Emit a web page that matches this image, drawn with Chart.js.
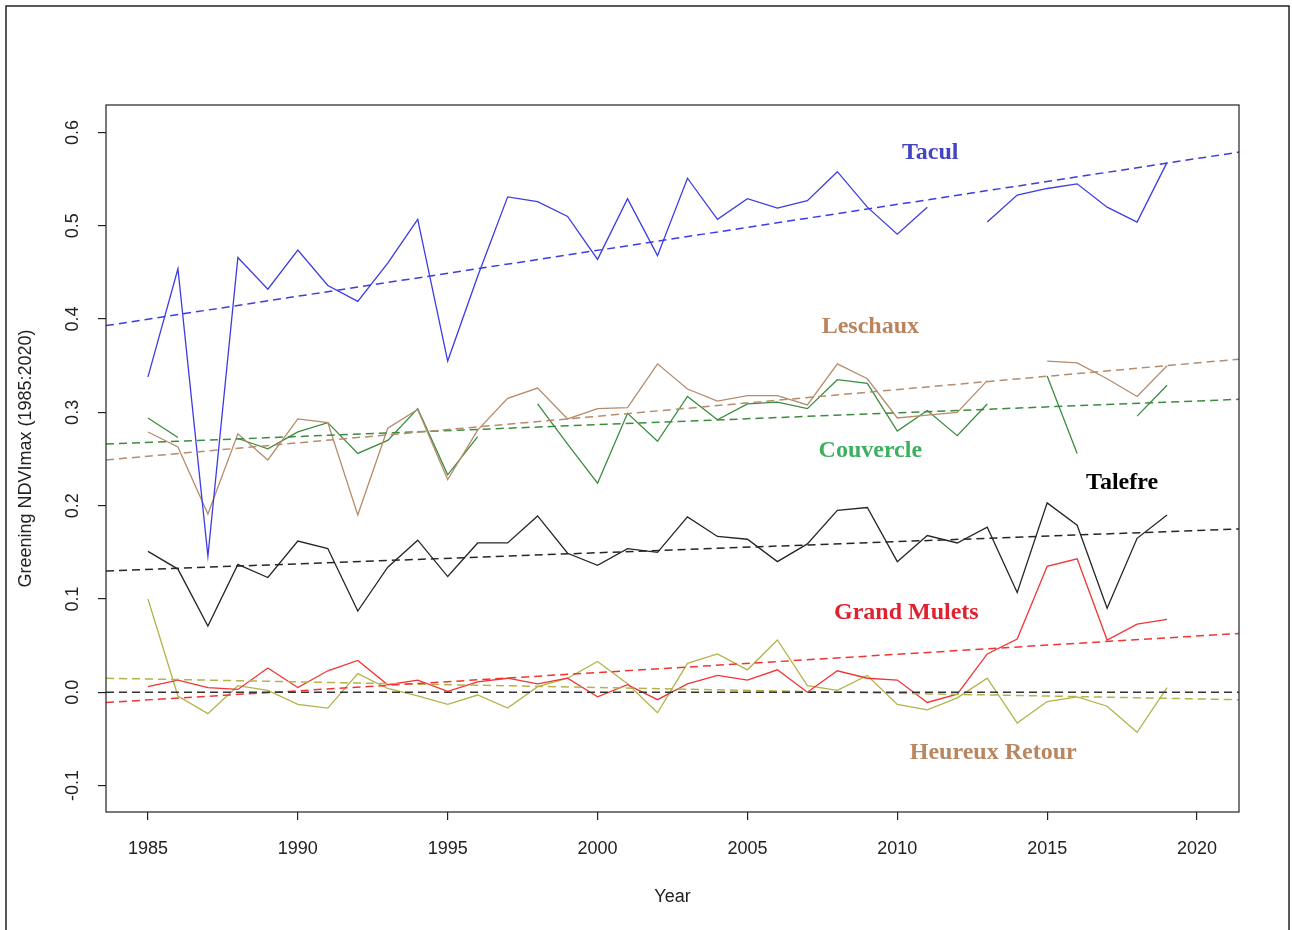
<!DOCTYPE html>
<html>
<head>
<meta charset="utf-8">
<title>Greening NDVImax</title>
<script src="https://cdn.jsdelivr.net/npm/chart.js@4.4.1/dist/chart.umd.min.js"></script>
<style>
  html, body { margin: 0; padding: 0; background: #fff; }
</style>
</head>
<body>
<canvas id="myChart" width="1292" height="930"></canvas>
<script>
// yearly NDVImax greening per glacier site (null = no value that year)
const years = [1985, 1986, 1987, 1988, 1989, 1990, 1991, 1992, 1993, 1994,
  1995, 1996, 1997, 1998, 1999, 2000, 2001, 2002, 2003, 2004,
  2005, 2006, 2007, 2008, 2009, 2010, 2011, 2012, 2013, 2014,
  2015, 2016, 2017, 2018, 2019];

const tacul = [0.338, 0.454, 0.146, 0.466, 0.432, 0.474, 0.436, 0.419, 0.460, 0.507,
  0.355, 0.446, 0.531, 0.526, 0.510, 0.464, 0.529, 0.468, 0.551, 0.507,
  0.529, 0.519, 0.527, 0.558, 0.520, 0.491, 0.520, null, 0.504, 0.533,
  0.540, 0.545, 0.520, 0.504, 0.568];

const leschaux = [0.279, 0.263, 0.191, 0.277, 0.249, 0.293, 0.289, 0.190, 0.283, 0.303,
  0.228, 0.281, 0.315, 0.326, 0.293, 0.304, 0.305, 0.352, 0.325, 0.312,
  0.318, 0.318, 0.308, 0.352, 0.336, 0.294, 0.297, 0.300, 0.334, null,
  0.355, 0.353, 0.336, 0.317, 0.350];

const couvercle = [0.294, 0.273, null, 0.272, 0.261, 0.279, 0.289, 0.256, 0.270, 0.304,
  0.233, 0.274, null, 0.309, 0.266, 0.224, 0.299, 0.269, 0.317, 0.292,
  0.309, 0.311, 0.304, 0.335, 0.331, 0.280, 0.302, 0.275, 0.309, null,
  0.339, 0.256, null, 0.296, 0.329];

const talefre = [0.151, 0.132, 0.071, 0.137, 0.123, 0.162, 0.154, 0.087, 0.134, 0.163,
  0.124, 0.160, 0.160, 0.189, 0.149, 0.136, 0.154, 0.150, 0.188, 0.167,
  0.164, 0.140, 0.159, 0.195, 0.198, 0.140, 0.168, 0.160, 0.177, 0.107,
  0.203, 0.179, 0.090, 0.165, 0.190];

const grandMulets = [0.006, 0.013, 0.005, 0.003, 0.026, 0.005, 0.023, 0.034, 0.008, 0.013,
  0.001, 0.011, 0.015, 0.009, 0.015, -0.005, 0.008, -0.008, 0.009, 0.018,
  0.013, 0.024, 0.000, 0.023, 0.015, 0.013, -0.011, -0.002, 0.041, 0.057,
  0.135, 0.143, 0.056, 0.073, 0.078];

const heureuxRetour = [0.100, -0.004, -0.023, 0.007, 0.002, -0.013, -0.017, 0.020, 0.004, -0.004,
  -0.013, -0.003, -0.017, 0.006, 0.015, 0.033, 0.009, -0.022, 0.031, 0.041,
  0.024, 0.056, 0.007, 0.002, 0.018, -0.013, -0.019, -0.006, 0.015, -0.033,
  -0.010, -0.005, -0.015, -0.043, 0.005];

// linear trend, value at left / right edge of the plot
const trendLeft = [0.393, 0.249, 0.266, 0.130, -0.011, 0.015];
const trendRight = [0.579, 0.357, 0.314, 0.175, 0.063, -0.008];

const siteNames = ["Tacul", "Leschaux", "Couvercle", "Talefre", "Grand Mulets", "Heureux Retour"];
const siteSeries = [tacul, leschaux, couvercle, talefre, grandMulets, heureuxRetour];

// axis range and ticks
const xMin = 1983.6, xMax = 2021.4;
const yMin = -0.1284, yMax = 0.6295;
const xTicks = [1985, 1990, 1995, 2000, 2005, 2010, 2015, 2020];
const yTicks = [-0.1, 0.0, 0.1, 0.2, 0.3, 0.4, 0.5, 0.6];

// styling
const lineColors = ["#3c3ce4", "#b58c6c", "#3b8c3f", "#262626", "#f03434", "#b3b34a"];
const labelColors = ["#4545c2", "#b9845e", "#3cb05e", "#000000", "#e0222e", "#b9865f"];
const labelSpots = [
  { x: 2011.1, y: 0.578 },
  { x: 2009.1, y: 0.392 },
  { x: 2009.1, y: 0.259 },
  { x: 2017.5, y: 0.224 },
  { x: 2010.3, y: 0.0855 },
  { x: 2013.2, y: -0.0647 }
];

const tickFont = { family: "'Liberation Sans', Arial, sans-serif", size: 18 };

let datasets = [];

// zero reference line
datasets.push({
  data: [{ x: xMin, y: 0 }, { x: xMax, y: 0 }],
  borderColor: "#333",
  borderWidth: 1.4,
  borderDash: [8, 5]
});

siteSeries.forEach((series, i) => {
  datasets.push({
    label: siteNames[i] + " trend",
    data: [{ x: xMin, y: trendLeft[i] }, { x: xMax, y: trendRight[i] }],
    borderColor: lineColors[i],
    borderWidth: 1.5,
    borderDash: [8, 5]
  });
});

siteSeries.forEach((series, i) => {
  datasets.push({
    label: siteNames[i],
    data: years.map((yr, k) => ({ x: yr, y: series[k] })),
    borderColor: lineColors[i],
    borderWidth: 1.3,
    spanGaps: false
  });
});

// frame, plot box and the site names
const decorPlugin = {
  id: "decor",
  afterDraw(chart) {
    const ctx = chart.ctx;
    const area = chart.chartArea;
    const xs = chart.scales.x, ys = chart.scales.y;
    ctx.save();
    ctx.strokeStyle = "#222";
    ctx.lineWidth = 1.5;
    ctx.strokeRect(6, 6, 1283, 940);
    ctx.lineWidth = 1.2;
    ctx.strokeRect(area.left, area.top, area.right - area.left, area.bottom - area.top);

    ctx.font = "bold 24px 'Liberation Serif', 'Times New Roman', serif";
    ctx.textAlign = "center";
    ctx.textBaseline = "middle";
    labelSpots.forEach((spot, i) => {
      ctx.fillStyle = labelColors[i];
      ctx.fillText(siteNames[i], xs.getPixelForValue(spot.x), ys.getPixelForValue(spot.y));
    });
    ctx.restore();
  }
};

const ctx = document.querySelector("#myChart").getContext("2d");
const config = {
  type: "line",
  data: { datasets: datasets },
  options: {
    responsive: false,
    animation: false,
    layout: { padding: { top: 105, right: 53, left: 0, bottom: 0 } },
    plugins: { legend: { display: false }, tooltip: { enabled: false } },
    elements: { point: { radius: 0 }, line: { tension: 0 } },
    scales: {
      x: {
        type: "linear",
        min: xMin,
        max: xMax,
        afterBuildTicks: (scale) => { scale.ticks = xTicks.map((v) => ({ value: v })); },
        afterFit: (scale) => { scale.height = 118; },
        grid: { drawOnChartArea: false, tickLength: 8, color: "#222", lineWidth: 1.2 },
        border: { display: false },
        ticks: {
          autoSkip: false,
          maxRotation: 0,
          padding: 18,
          color: "#222",
          font: tickFont,
          callback: (value) => String(value)
        },
        title: { display: true, text: "Year", color: "#222", font: tickFont, padding: { top: 0, bottom: 22 } }
      },
      y: {
        min: yMin,
        max: yMax,
        afterBuildTicks: (scale) => { scale.ticks = yTicks.map((v) => ({ value: v })); },
        afterFit: (scale) => { scale.width = 106; },
        grid: { drawOnChartArea: false, tickLength: 8, color: "#222", lineWidth: 1.2 },
        border: { display: false },
        ticks: {
          autoSkip: false,
          minRotation: 90,
          maxRotation: 90,
          crossAlign: "center",
          padding: 9,
          color: "#222",
          font: tickFont,
          callback: (value) => value.toFixed(1)
        },
        title: { display: true, text: "Greening NDVImax (1985:2020)", color: "#222", font: tickFont, padding: { top: 15, bottom: 0 } }
      }
    }
  },
  plugins: [decorPlugin]
};

const myChart = new Chart(ctx, config);
</script>
</body>
</html>
